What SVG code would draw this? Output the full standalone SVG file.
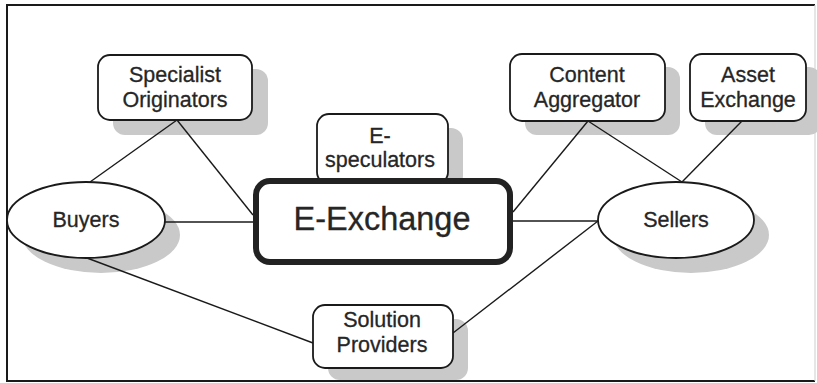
<svg xmlns="http://www.w3.org/2000/svg" width="817" height="383" viewBox="0 0 817 383">
  <style>
    .edge { stroke: #1a1a1a; stroke-width: 2; fill: none; }
    .edge-faint { stroke: #d6d6d6; stroke-width: 1.2; fill: none; }
    .box { fill: #ffffff; stroke: #1a1a1a; stroke-width: 1.8; }
    .hub { fill: #ffffff; stroke: #222222; stroke-width: 6; }
    .shadow { fill: #c9c9c9; }
    .label { font-family: "Liberation Sans", Arial, sans-serif; font-size: 21.5px; fill: #262626; stroke: #262626; stroke-width: 0.3; text-anchor: middle; }
    .big { font-family: "Liberation Sans", Arial, sans-serif; font-size: 32.5px; fill: #262626; stroke: #262626; stroke-width: 0.3; text-anchor: middle; }
    .link { stroke: #1a1a1a; stroke-width: 1.4; fill: none; }
  </style>

  <rect x="0" y="0" width="817" height="383" fill="#ffffff"/>

  <!-- outer frame: right side is only faintly printed -->
  <g id="frame">
    <path class="edge" d="M815 5 H7 V381 H815"/>
    <line class="edge-faint" x1="815" y1="5" x2="815" y2="381"/>
  </g>

  <!-- drop shadows, offset down and right -->
  <g id="shadows">
    <rect class="shadow" x="113" y="69" width="155" height="66" rx="12"/>
    <rect class="shadow" x="332" y="128" width="131" height="60" rx="12"/>
    <rect class="shadow" x="525" y="67" width="155" height="68" rx="12"/>
    <rect class="shadow" x="705" y="67" width="116" height="68" rx="12"/>
    <rect class="shadow" x="328" y="319" width="140" height="61" rx="12"/>
    <ellipse class="shadow" cx="101" cy="235" rx="79" ry="38"/>
    <ellipse class="shadow" cx="691" cy="235" rx="78" ry="38"/>
  </g>

  <g id="connectors">
    <line class="link" x1="177" y1="120" x2="90" y2="182"/>
    <line class="link" x1="177" y1="120" x2="253" y2="215"/>
    <line class="link" x1="165" y1="222" x2="253" y2="222"/>
    <line class="link" x1="87" y1="258" x2="313" y2="343"/>
    <line class="link" x1="513" y1="212" x2="588" y2="121"/>
    <line class="link" x1="588" y1="121" x2="682" y2="182"/>
    <line class="link" x1="742" y1="121" x2="682" y2="182"/>
    <line class="link" x1="513" y1="221" x2="598" y2="221"/>
    <line class="link" x1="598" y1="221" x2="453" y2="333"/>
  </g>

  <g id="specialist-originators">
    <rect class="box" x="98" y="55" width="154" height="65" rx="12"/>
    <text class="label" x="175" y="82">Specialist</text>
    <text class="label" x="175" y="107">Originators</text>
  </g>

  <g id="e-speculators">
    <rect class="box" x="317" y="114" width="131" height="70" rx="12"/>
    <text class="label" x="380" y="143">E-</text>
    <text class="label" x="380" y="167">speculators</text>
  </g>

  <g id="content-aggregator">
    <rect class="box" x="510" y="54" width="155" height="67" rx="12"/>
    <text class="label" x="587" y="82">Content</text>
    <text class="label" x="587" y="107">Aggregator</text>
  </g>

  <g id="asset-exchange">
    <rect class="box" x="690" y="54" width="116" height="67" rx="12"/>
    <text class="label" x="748" y="82">Asset</text>
    <text class="label" x="748" y="107">Exchange</text>
  </g>

  <g id="buyers">
    <ellipse class="box" cx="86" cy="220" rx="79" ry="38"/>
    <text class="label" x="86" y="227">Buyers</text>
  </g>

  <g id="sellers">
    <ellipse class="box" cx="676" cy="220" rx="78" ry="38"/>
    <text class="label" x="676" y="227">Sellers</text>
  </g>

  <g id="e-exchange">
    <rect class="hub" x="256" y="181" width="254" height="81" rx="14"/>
    <text class="big" x="382" y="230">E-Exchange</text>
  </g>

  <g id="solution-providers">
    <rect class="box" x="313" y="305" width="140" height="63" rx="12"/>
    <text class="label" x="382" y="327">Solution</text>
    <text class="label" x="382" y="352">Providers</text>
  </g>
</svg>
